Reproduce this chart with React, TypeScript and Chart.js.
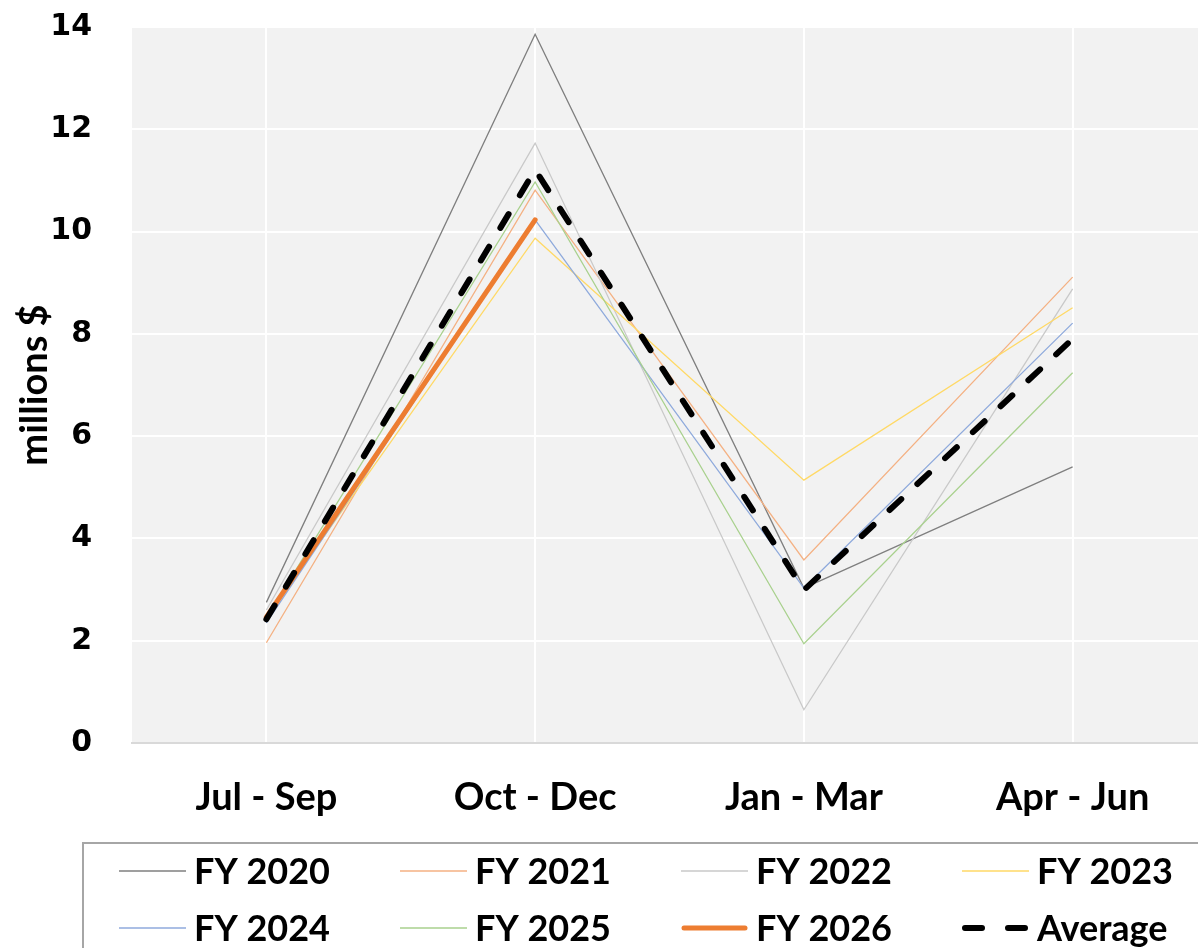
import React, { useEffect, useRef } from "react";
import { Chart, registerables } from "chart.js";

Chart.register(...registerables);

const categories = ["Jul - Sep", "Oct - Dec", "Jan - Mar", "Apr - Jun"];
const fy2020 = [2.75, 13.86, 3.03, 5.4];
const fy2021 = [1.96, 10.81, 3.58, 9.11];
const fy2022 = [2.6, 11.73, 0.65, 8.88];
const fy2023 = [2.45, 9.87, 5.14, 8.51];
const fy2024 = [2.35, 10.23, 3.03, 8.21];
const fy2025 = [2.45, 10.97, 1.94, 7.24];
const fy2026 = [2.46, 10.23, null, null];
const average = [2.42, 11.21, 2.99, 7.9];
const yTicks = [0, 2, 4, 6, 8, 10, 12, 14];

const LABEL_FONT = "Lato, 'Open Sans', sans-serif";

const plotBg = {
  id: "plotBg",
  beforeDraw(chart: any) {
    const { ctx, chartArea } = chart;
    ctx.save();
    ctx.fillStyle = "#f2f2f2";
    ctx.fillRect(chartArea.left, chartArea.top, chartArea.right - chartArea.left, chartArea.bottom - chartArea.top);
    ctx.restore();
  },
};

const boxLegend = {
  id: "boxLegend",
  afterDraw(chart: any) {
    const { ctx } = chart;
    ctx.save();
    ctx.strokeStyle = "#a6a6a6";
    ctx.lineWidth = 2;
    ctx.strokeRect(83, 843, 1200, 200);
    const datasets = chart.data.datasets;
    datasets.forEach((ds: any, i: number) => {
      const col = i % 4;
      const row = Math.floor(i / 4);
      const x0 = 119 + col * 281;
      const y = 871 + row * 57;
      const len = 67;
      ctx.beginPath();
      ctx.strokeStyle = ds.borderColor;
      ctx.lineWidth = ds.borderWidth;
      ctx.lineCap = ds.borderWidth > 3 ? "round" : "butt";
      ctx.setLineDash(ds.legendDash || []);
      const inset = ds.borderWidth > 3 ? 3 : 0;
      ctx.moveTo(x0 + inset, y);
      ctx.lineTo(x0 + len - inset, y);
      ctx.stroke();
      ctx.setLineDash([]);
      ctx.fillStyle = "#000";
      ctx.font = `bold 36px ${LABEL_FONT}`;
      ctx.textBaseline = "middle";
      ctx.textAlign = "left";
      ctx.fillText(ds.label, x0 + len + 8, y + 1);
    });
    ctx.restore();
  },
};

export default function App() {
  const ref = useRef<HTMLCanvasElement | null>(null);
  useEffect(() => {
    if (!ref.current) return;
    const thin = 1.3;
    const mk = (label: string, data: any[], color: string, order: number) => ({
      label,
      data,
      borderColor: color,
      backgroundColor: color,
      borderWidth: thin,
      pointRadius: 0,
      tension: 0,
      order,
    });
    const chart = new Chart(ref.current, {
      type: "line",
      data: {
        labels: categories,
        datasets: [
          mk("FY 2020", fy2020, "#7f7f7f", 8),
          mk("FY 2021", fy2021, "#f4b183", 7),
          mk("FY 2022", fy2022, "#c9c9c9", 6),
          mk("FY 2023", fy2023, "#ffd966", 5),
          mk("FY 2024", fy2024, "#8faadc", 4),
          mk("FY 2025", fy2025, "#a9d18e", 3),
          {
            label: "FY 2026",
            data: fy2026,
            borderColor: "#ed7d31",
            backgroundColor: "#ed7d31",
            borderWidth: 5,
            borderCapStyle: "round",
            pointRadius: 0,
            tension: 0,
            order: 1,
          },
          {
            label: "Average",
            data: average,
            borderColor: "#000000",
            backgroundColor: "#000000",
            borderWidth: 6,
            borderDash: [16, 22],
            borderCapStyle: "round",
            legendDash: [17, 26],
            pointRadius: 0,
            tension: 0,
            order: 0,
          } as any,
        ],
      },
      options: {
        responsive: false,
        animation: false,
        layout: { padding: { top: 27, left: 0, right: 0, bottom: 0 } },
        plugins: {
          legend: { display: false },
          tooltip: { enabled: false },
        },
        scales: {
          x: {
            offset: true,
            grid: { offset: false, color: "#ffffff", lineWidth: 2, drawTicks: false },
            border: { display: true, color: "#d9d9d9", width: 2 },
            ticks: {
              color: "#000",
              padding: 32,
              font: { family: LABEL_FONT, size: 38, weight: "bold" },
              maxRotation: 0,
            },
            afterFit: (axis: any) => {
              axis.height = 948 - 743;
              axis.paddingLeft = 0;
              axis.paddingRight = 0;
            },
          },
          y: {
            min: 0,
            max: 14,
            afterBuildTicks: (axis: any) => {
              axis.ticks = yTicks.map((v) => ({ value: v }));
            },
            grid: { color: "#ffffff", lineWidth: 2, drawTicks: false },
            border: { display: false },
            ticks: {
              color: "#000",
              padding: 40,
              font: { family: "'DejaVu Sans', sans-serif", size: 30, weight: "bold" },
            },
            title: {
              display: true,
              text: "millions $",
              color: "#000",
              font: { family: LABEL_FONT, size: 38, weight: "bold" },
              padding: { top: 12, bottom: 0 },
            },
            afterFit: (axis: any) => {
              axis.width = 132;
              axis.paddingTop = 0;
              axis.paddingBottom = 0;
            },
          },
        },
      },
      plugins: [plotBg, boxLegend],
    } as any);
    return () => chart.destroy();
  }, []);
  return (
    <div style={{ position: "fixed", left: 0, top: 0, width: 1198, height: 948, overflow: "hidden", background: "#fff" }}>
      <canvas ref={ref} width={1207} height={948} style={{ display: "block" }} />
    </div>
  );
}
